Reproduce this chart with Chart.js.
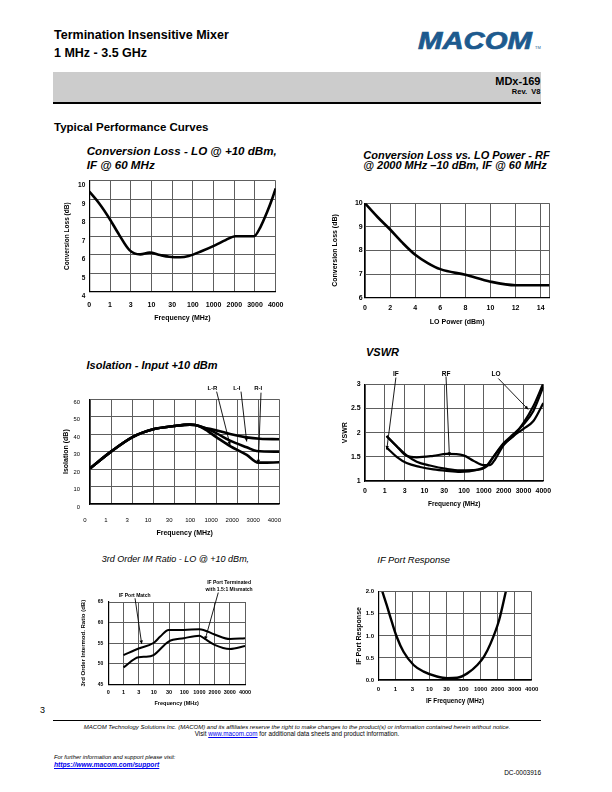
<!DOCTYPE html>
<html>
<head>
<meta charset="utf-8">
<script src="https://cdn.jsdelivr.net/npm/chart.js@4.4.1/dist/chart.umd.min.js"></script>
<style>
  html, body { margin: 0; padding: 0; background: #fff; }
  body { width: 612px; height: 792px; position: relative; overflow: hidden;
         font-family: 'Liberation Sans', Arial, sans-serif; color: #000; }
  .t { position: absolute; white-space: nowrap; line-height: 1; }
  .b { font-weight: bold; }
  .i { font-style: italic; }
  canvas { position: absolute; }
  a { color: #0000ee; text-decoration: underline; }
</style>
</head>
<body>
<div class="t b" style="left:54px; top:29.4px; font-size:12.5px;">Termination Insensitive Mixer</div>
<div class="t b" style="left:54px; top:47.1px; font-size:12.5px;">1 MHz - 3.5 GHz</div>
<div class="t b i" style="left:418px; top:28.7px; font-size:24px; color:#1d5a8e; -webkit-text-stroke:0.7px #1d5a8e; transform:scaleX(1.22); transform-origin:left top;">MACOM</div>
<div class="t" style="left:535px; top:46px; font-size:4px; color:#1d5a8e;">TM</div>

<div style="position:absolute; left:53px; top:72px; width:488px; height:30px; background:#cccccc; border-bottom:2px solid #000;"></div>
<div class="t b" style="right:71.5px; top:75.7px; font-size:11px;">MDx-169</div>
<div class="t b" style="right:71.5px; top:87.6px; font-size:7.5px;">Rev.&nbsp; V8</div>

<div class="t b" style="left:54px; top:122px; font-size:11.5px;">Typical Performance Curves</div>

<div class="t b i" style="left:86.7px; top:145.3px; font-size:11.6px;">Conversion Loss - LO @ +10 dBm,</div>
<div class="t b i" style="left:86.7px; top:158.6px; font-size:11.6px;">IF @ 60 MHz</div>
<div class="t b i" style="left:363.3px; top:149.7px; font-size:11px;">Conversion Loss vs. LO Power - RF</div>
<div class="t b i" style="left:363.3px; top:160px; font-size:11px;">@ 2000 MHz –10 dBm, IF @ 60 MHz</div>
<div class="t b i" style="left:86.5px; top:359.7px; font-size:11px;">Isolation - Input +10 dBm</div>
<div class="t b i" style="left:366px; top:346.7px; font-size:11px;">VSWR</div>
<div class="t i" style="left:101.7px; top:555.1px; font-size:9px;">3rd Order IM Ratio - LO @ +10 dBm,</div>
<div class="t i" style="left:377.3px; top:554.7px; font-size:9.4px;">IF Port Response</div>

<div class="t" style="left:40px; top:705.7px; font-size:9px;">3</div>
<div style="position:absolute; left:53px; top:720px; width:488px; border-top:1px solid #000;"></div>
<div class="t i" style="left:53px; width:488px; text-align:center; top:723.6px; font-size:6px;">MACOM Technology Solutions Inc. (MACOM) and its affiliates reserve the right to make changes to the product(s) or information contained herein without notice.</div>
<div class="t" style="left:53px; width:488px; text-align:center; top:731.4px; font-size:6.3px;">Visit <a>www.macom.com</a> for additional data sheets and product information.</div>
<div class="t i" style="left:54px; top:755.1px; font-size:5.8px;">For further information and support please visit:</div>
<div class="t b i" style="left:54px; top:762px; font-size:6.7px;"><a>https://www.macom.com/support</a></div>
<div class="t" style="right:71px; top:769.5px; font-size:6.5px;">DC-0003916</div>

<script>
// --- Data (x values are positions along the frequency label axis) ---
const freqLabels = ['0', '1', '3', '10', '30', '100', '1000', '2000', '3000', '4000'];
const freqTicks = [0, 1, 2, 3, 4, 5, 6, 7, 8, 9];

// Conversion loss vs frequency
const clPos  = [0, 0.48, 0.97, 1.45, 1.94, 2.46, 2.91, 3.42, 3.86, 4.39, 4.8, 5.44, 6.09, 6.58, 7.06, 7.46, 7.95, 8.27, 8.59, 8.84, 9];
const clLoss = [9.41, 8.77, 7.96, 7.06, 6.25, 6.02, 6.11, 5.98, 5.89, 5.86, 5.93, 6.2, 6.52, 6.79, 7.0, 7.0, 7.0, 7.51, 8.32, 9.05, 9.59];
const clTicks = [4, 5, 6, 7, 8, 9, 10];

// Conversion loss vs LO power
const loPower = [0, 1, 2, 3, 4, 5, 6, 8, 10, 12, 14, 14.7];
const loLoss  = [10.0, 9.42, 8.89, 8.32, 7.82, 7.47, 7.21, 6.97, 6.68, 6.53, 6.53, 6.53];
const loTicks = [0, 2, 4, 6, 8, 10, 12, 14, 14.7];
const loTickLabels = ['0', '2', '4', '6', '8', '10', '12', '14'];
const loLossTicks = [6, 7, 8, 9, 10];

// Isolation
const isoLIPos = [0, 1, 2, 3, 4, 4.75, 5, 5.39, 5.94, 6.66, 7.45, 8.08, 9];
const isoLI    = [20.4, 30.0, 38.2, 42.8, 44.7, 45.5, 45.3, 43.9, 42.4, 40.1, 38.2, 37.4, 37.1];
const isoLRPos = [0, 1, 2, 3, 4, 4.75, 5, 5.39, 6.02, 6.66, 7.45, 7.92, 9];
const isoLR    = [20.4, 30.0, 38.2, 42.8, 44.7, 45.5, 45.3, 43.9, 40.5, 36.3, 32.5, 30.4, 30.0];
const isoRIPos = [0, 1, 2, 3, 4, 4.75, 5, 5.39, 6.02, 6.66, 7.45, 8.0, 8.16, 9];
const isoRI    = [20.4, 30.0, 38.2, 42.8, 44.7, 45.5, 45.3, 43.4, 38.2, 33.2, 28.1, 23.7, 23.7, 23.9];
const isoTicks = [0, 10, 20, 30, 40, 50, 60];

// VSWR
const vswrIFPos = [1.09, 1.6, 2.1, 2.78, 3.45, 4.12, 4.8, 5.64, 6.14, 6.48, 6.99, 7.49, 8.0, 8.5, 9];
const vswrIF    = [1.69, 1.5, 1.37, 1.29, 1.24, 1.21, 1.19, 1.23, 1.32, 1.5, 1.76, 1.93, 2.2, 2.55, 3.02];
const vswrRFPos = [1.09, 1.6, 2.1, 2.61, 3.45, 4.12, 4.97, 5.47, 5.98, 6.31, 6.57, 6.99, 7.49, 8.0, 8.5, 9];
const vswrRF    = [1.93, 1.72, 1.52, 1.49, 1.52, 1.56, 1.53, 1.42, 1.33, 1.33, 1.45, 1.74, 1.93, 2.08, 2.24, 2.61];
const vswrLOPos = [1.09, 1.6, 2.1, 2.61, 3.28, 4.12, 4.8, 5.64, 6.14, 6.48, 6.99, 7.49, 8.0, 8.5, 9];
const vswrLO    = [1.93, 1.72, 1.53, 1.40, 1.32, 1.25, 1.22, 1.23, 1.30, 1.50, 1.78, 1.97, 2.17, 2.45, 2.95];
const vswrTicks = [1, 1.5, 2, 2.5, 3];
const vswrTickLabels = ['1', '1.5', '2', '2.5', '3'];

// 3rd order IM ratio
const imMatchPos = [1, 2, 3, 3.42, 3.97, 4.97, 6, 7, 8, 9];
const imMatch    = [52.1, 53.7, 55.1, 56.6, 58.2, 58.2, 58.4, 57.1, 56.0, 56.2];
const imMisPos   = [1, 1.99, 2.5, 2.98, 3.97, 4.97, 6.0, 6.29, 7.0, 8.01, 9];
const imMis      = [49.1, 51.6, 51.7, 52.1, 55.4, 56.2, 56.8, 56.2, 54.6, 53.6, 54.3];
const imTicks = [45, 50, 55, 60, 65];

// IF port response
const ifPos  = [0.24, 0.49, 0.79, 1.08, 1.48, 2.07, 2.66, 3.44, 4.04, 4.63, 5.22, 5.81, 6.2, 6.59, 7.09, 7.48];
const ifResp = [2.0, 1.7, 1.32, 0.98, 0.64, 0.34, 0.19, 0.08, 0.04, 0.05, 0.15, 0.34, 0.53, 0.83, 1.36, 2.0];
const ifTicks = [0, 0.5, 1, 1.5, 2];
const ifTickLabels = ['0.0', '0.5', '1.0', '1.5', '2.0'];
// ------------------

Chart.defaults.font.family = "'Liberation Sans', Arial, sans-serif";
Chart.defaults.color = '#000';

const GRID = '#5e5e5e';

function pts(xs, ys) {
    return xs.map((x, i) => ({ x: x, y: ys[i] }));
}

// labels and pointer arrows, placed in data coordinates
const arrowNotes = {
    id: 'arrowNotes',
    afterDatasetsDraw(chart, args, opts) {
        const notes = opts.notes || [];
        if (!notes.length) return;
        const ctx = chart.ctx;
        const sx = chart.scales.x, sy = chart.scales.y;
        const px = p => [sx.getPixelForValue(p[0]), sy.getPixelForValue(p[1])];
        ctx.save();
        ctx.fillStyle = '#000';
        ctx.strokeStyle = '#000';
        ctx.font = opts.font;
        ctx.textBaseline = 'middle';
        notes.forEach(n => {
            ctx.textAlign = n.align || 'center';
            const [tx, ty] = px(n.at);
            [].concat(n.text).forEach((line, i) => ctx.fillText(line, tx, ty + i * opts.lineStep));
            (n.arrows || []).forEach(ar => {
                const [x1, y1] = px(ar[0]);
                const [x2, y2] = px(ar[1]);
                ctx.lineWidth = opts.lineWidth;
                ctx.beginPath();
                ctx.moveTo(x1, y1);
                ctx.lineTo(x2, y2);
                ctx.stroke();
                const a = Math.atan2(y2 - y1, x2 - x1), L = opts.head;
                ctx.beginPath();
                ctx.moveTo(x2, y2);
                ctx.lineTo(x2 - L * Math.cos(a - 0.45), y2 - L * Math.sin(a - 0.45));
                ctx.lineTo(x2 - L * Math.cos(a + 0.45), y2 - L * Math.sin(a + 0.45));
                ctx.closePath();
                ctx.fill();
            });
        });
        ctx.restore();
    }
};

function axis(a, fitSize, horizontal) {
    return {
        type: 'linear',
        min: a.min,
        max: a.max,
        afterFit: s => {
            if (horizontal) { s.height = fitSize; s.paddingLeft = 0; s.paddingRight = 0; }
            else { s.width = fitSize; s.paddingTop = 0; s.paddingBottom = 0; }
        },
        afterBuildTicks: s => { s.ticks = a.ticks.map(v => ({ value: v })); },
        ticks: {
            autoSkip: false,
            maxRotation: 0,
            padding: a.tickPad,
            labelOffset: a.labelOffset || 0,
            font: { size: a.tickSize, weight: a.tickWeight || 'bold' },
            callback: (v, i) => (a.labels[i] !== undefined ? a.labels[i] : '')
        },
        grid: { color: GRID, lineWidth: 1, drawTicks: false },
        border: { color: '#000', width: 1.2 },
        title: { display: true, text: a.title, padding: 0, font: { size: a.titleSize, weight: 'bold' } }
    };
}

function makeChart(c) {
    const canvas = document.createElement('canvas');
    const left = Math.round(c.y.titleX - c.y.titleSize * 0.6);
    const top = Math.round(c.area.top - c.padTop);
    const right = Math.round(c.area.right + 14);
    const bottom = Math.round(c.x.titleY + c.x.titleSize * 0.6);
    const w = right - left, h = bottom - top;
    canvas.width = w;
    canvas.height = h;
    canvas.style.left = left + 'px';
    canvas.style.top = top + 'px';
    canvas.style.width = w + 'px';
    canvas.style.height = h + 'px';
    document.body.appendChild(canvas);

    const yw = c.area.left - left;
    const xh = bottom - c.area.bottom;

    return new Chart(canvas.getContext('2d'), {
        type: 'line',
        data: {
            datasets: c.series.map(s => ({
                data: pts(s[0], s[1]),
                borderColor: '#000',
                borderWidth: c.lineWidth,
                pointRadius: 0,
                fill: false,
                cubicInterpolationMode: 'monotone'
            }))
        },
        options: {
            responsive: false,
            animation: false,
            devicePixelRatio: 1,
            layout: { padding: { top: c.area.top - top, right: right - c.area.right, left: 0, bottom: 0 } },
            plugins: {
                legend: { display: false },
                tooltip: { enabled: false },
                arrowNotes: Object.assign({ notes: [], font: 'bold 6px "Liberation Sans", Arial', lineStep: 7, lineWidth: 0.9, head: 4 }, c.notes)
            },
            scales: { x: axis(c.x, xh, true), y: axis(c.y, yw, false) }
        },
        plugins: [arrowNotes]
    });
}

document.addEventListener('DOMContentLoaded', () => {
    makeChart({
        area: { left: 89.3, right: 275.7, top: 180.7, bottom: 291.7 }, padTop: 8, lineWidth: 2.6,
        x: { min: 0, max: 9, ticks: freqTicks, labels: freqLabels, title: 'Frequency (MHz)', titleY: 318, titleSize: 7, tickSize: 7, tickPad: 9 },
        y: { min: 4, max: 10, ticks: clTicks, labels: clTicks.map(String), title: 'Conversion Loss (dB)', titleX: 67.3, titleSize: 6.5, tickSize: 6.5, tickPad: 4, labelOffset: 5 },
        series: [[clPos, clLoss]]
    });

    makeChart({
        area: { left: 365, right: 549.5, top: 203.3, bottom: 297.7 }, padTop: 8, lineWidth: 2.6,
        x: { min: 0, max: 14.7, ticks: loTicks, labels: loTickLabels, title: 'LO Power (dBm)', titleY: 321.7, titleSize: 7, tickSize: 7, tickPad: 6.4 },
        y: { min: 6, max: 10, ticks: loLossTicks, labels: loLossTicks.map(String), title: 'Conversion Loss (dB)', titleX: 335, titleSize: 7, tickSize: 7, tickPad: 2.3 },
        series: [[loPower, loLoss]]
    });

    makeChart({
        area: { left: 90, right: 279.3, top: 399.3, bottom: 504 }, padTop: 20, lineWidth: 2.6,
        x: { min: 0, max: 9, ticks: freqTicks, labels: freqLabels, title: 'Frequency (MHz)', titleY: 532.7, titleSize: 7, tickSize: 6, tickWeight: 'normal', tickPad: 13, labelOffset: -5 },
        y: { min: 0, max: 60, ticks: isoTicks, labels: isoTicks.map(String), title: 'Isolation (dB)', titleX: 66.5, titleSize: 7, tickSize: 5.8, tickWeight: 'normal', tickPad: 10, labelOffset: 3 },
        series: [[isoLIPos, isoLI], [isoLRPos, isoLR], [isoRIPos, isoRI]],
        notes: { notes: [
            { text: 'L-R', at: [5.82, 66.3], arrows: [[[6.02, 64.4], [6.66, 33.8]]] },
            { text: 'L-I', at: [6.98, 66.3], arrows: [[[7.18, 64.4], [7.45, 35.8]]] },
            { text: 'R-I', at: [8.0, 66.3], arrows: [[[8.13, 63.8], [8.0, 23.3]]] }
        ] }
    });

    makeChart({
        area: { left: 365, right: 543.3, top: 384.3, bottom: 481 }, padTop: 16, lineWidth: 2.2,
        x: { min: 0, max: 9, ticks: freqTicks, labels: freqLabels, title: 'Frequency (MHz)', titleY: 504, titleSize: 6.5, tickSize: 7, tickPad: 5.5 },
        y: { min: 1, max: 3, ticks: vswrTicks, labels: vswrTickLabels, title: 'VSWR', titleX: 345, titleSize: 7, tickSize: 7, tickPad: 4.3 },
        series: [[vswrIFPos, vswrIF], [vswrRFPos, vswrRF], [vswrLOPos, vswrLO]],
        notes: { font: 'bold 6.5px "Liberation Sans", Arial', notes: [
            { text: 'IF', at: [1.56, 3.21], arrows: [[[1.56, 3.14], [1.10, 1.65]]] },
            { text: 'RF', at: [4.09, 3.21], arrows: [[[4.09, 3.16], [4.26, 1.52]]] },
            { text: 'LO', at: [6.61, 3.21], arrows: [[[6.73, 3.12], [8.24, 2.48]]] }
        ] }
    });

    makeChart({
        area: { left: 108.3, right: 245, top: 602, bottom: 684.3 }, padTop: 26, lineWidth: 2,
        x: { min: 0, max: 9, ticks: freqTicks, labels: freqLabels, title: 'Frequency (MHz)', titleY: 704, titleSize: 5.5, tickSize: 5.5, tickPad: 4.7 },
        y: { min: 45, max: 65, ticks: imTicks, labels: imTicks.map(String), title: '3rd Order Intermod. Ratio (dB)', titleX: 83.5, titleSize: 6, tickSize: 5, tickPad: 5 },
        series: [[imMatchPos, imMatch], [imMisPos, imMis]],
        notes: { font: 'bold 5px "Liberation Sans", Arial', notes: [
            { text: 'IF Port Match', align: 'left', at: [0.70, 66.5], arrows: [[[1.76, 65.9], [2.2, 54.8]]] },
            { text: ['IF Port Terminated', 'with 1.5:1 Mismatch'], at: [7.95, 69.8], arrows: [[[7.24, 67.3], [6.37, 55.8]]] }
        ] }
    });

    makeChart({
        area: { left: 378.3, right: 531.7, top: 591.7, bottom: 680 }, padTop: 8, lineWidth: 2.4,
        x: { min: 0, max: 9, ticks: freqTicks, labels: freqLabels, title: 'IF Frequency (MHz)', titleY: 701.7, titleSize: 6.3, tickSize: 6, tickPad: 5.4 },
        y: { min: 0, max: 2, ticks: ifTicks, labels: ifTickLabels, title: 'IF Port Response', titleX: 359.3, titleSize: 7, tickSize: 6, tickPad: 4.3 },
        series: [[ifPos, ifResp]]
    });
});
</script>
</body>
</html>
